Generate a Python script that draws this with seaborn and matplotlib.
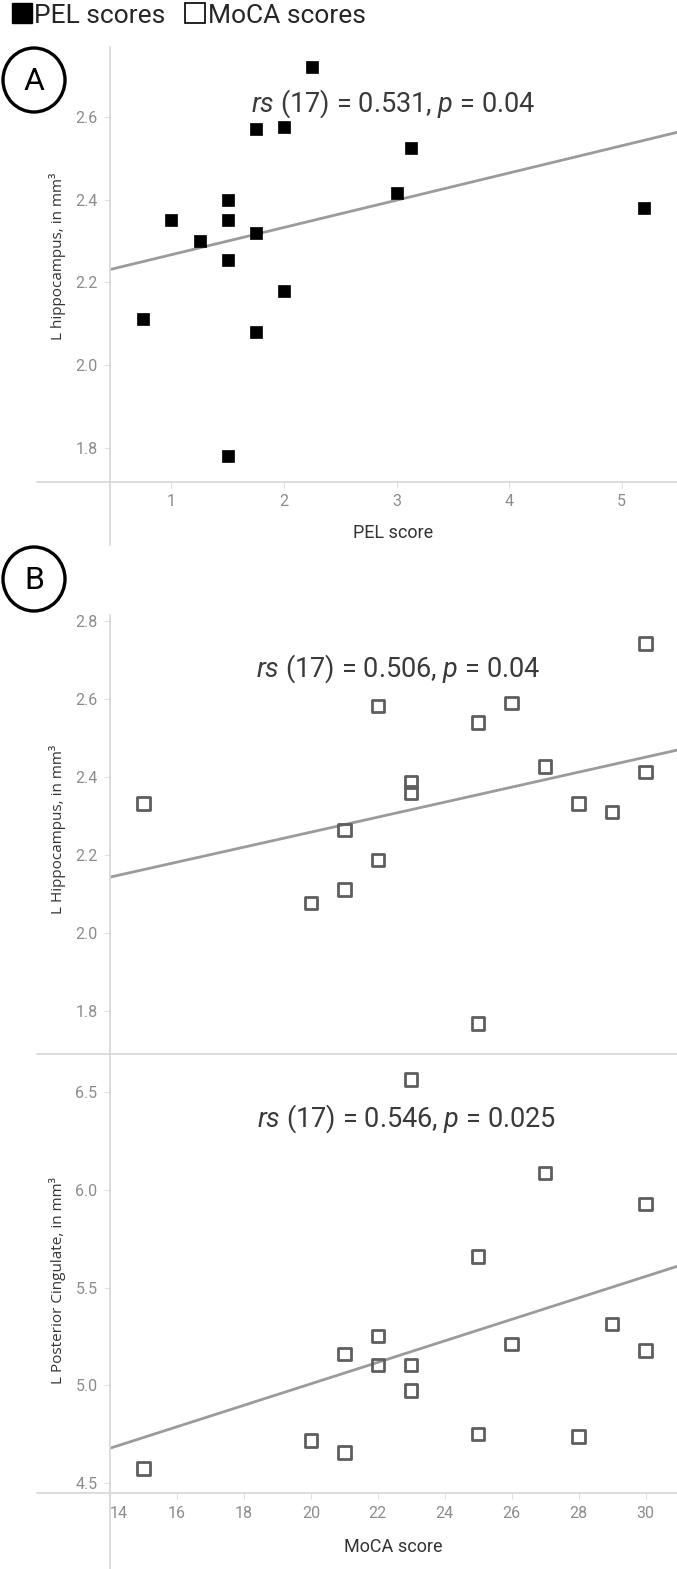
import numpy as np
import pandas as pd
import matplotlib
matplotlib.use("Agg")
import matplotlib.pyplot as plt
import seaborn as sns
from matplotlib.lines import Line2D
from matplotlib.patches import Ellipse
from matplotlib import font_manager as fm

# ---------------- data ----------------
pel_score = [0.75, 1.0, 1.25, 1.5, 1.5, 1.5, 1.5, 1.75, 1.75, 1.75, 2.0, 2.0, 2.25, 3.0, 3.125, 5.2]
pel_hippocampus = [2.11, 2.35, 2.30, 2.40, 2.35, 2.255, 1.78, 2.57, 2.32, 2.08, 2.575, 2.18, 2.72, 2.415, 2.525, 2.38]

moca_hip_score = [15, 20, 21, 21, 22, 22, 23, 23, 25, 25, 26, 27, 28, 29, 30, 30]
moca_hippocampus = [2.333, 2.078, 2.112, 2.264, 2.187, 2.583, 2.361, 2.388, 1.768, 2.540, 2.591, 2.427, 2.333, 2.311, 2.414, 2.743]

moca_pcc_score = [15, 20, 21, 21, 22, 22, 23, 23, 23, 25, 25, 26, 27, 28, 29, 30, 30]
moca_pcc = [4.572, 4.715, 4.655, 5.159, 5.104, 5.253, 6.567, 5.104, 4.973, 5.659, 4.749, 5.212, 6.086, 4.737, 5.313, 5.929, 5.177]

legend_labels = ["PEL scores", "MoCA scores"]
stats_text = [r"$\it{rs}$ (17) = 0.531, $\it{p}$ = 0.04",
              r"$\it{rs}$ (17) = 0.506, $\it{p}$ = 0.04",
              r"$\it{rs}$ (17) = 0.546, $\it{p}$ = 0.025"]
pel_ticks = [1, 2, 3, 4, 5]
moca_ticks = [14, 16, 18, 20, 22, 24, 26, 28, 30]
hipA_ticks = [1.8, 2.0, 2.2, 2.4, 2.6]
hipB_ticks = [1.8, 2.0, 2.2, 2.4, 2.6, 2.8]
pcc_ticks = [4.5, 5.0, 5.5, 6.0, 6.5]

# ---------------- style ----------------
sns.set_style("white")
names = {f.name for f in fm.fontManager.ttflist}
narrow = "Liberation Sans Narrow" if "Liberation Sans Narrow" in names else "Roboto"
label_font = "Open Sans" if "Open Sans" in names else "DejaVu Sans"
plt.rcParams["font.family"] = ["Roboto", "DejaVu Sans"]
plt.rcParams["mathtext.fontset"] = "custom"
plt.rcParams["mathtext.rm"] = narrow
plt.rcParams["mathtext.it"] = narrow + ":italic"

W, H = 677, 1569
fig = plt.figure(figsize=(W / 100, H / 100), dpi=100)

def px_axes(x0, y0, x1, y1):
    return fig.add_axes([x0 / W, 1 - y1 / H, (x1 - x0) / W, (y1 - y0) / H])

def fline(x0, y0, x1, y1):
    fig.add_artist(Line2D([x0 / W, x1 / W], [1 - y0 / H, 1 - y1 / H],
                          transform=fig.transFigure, color="#d9d9d9", lw=1.3))

axA = px_axes(110, 47, 677, 482)
axB1 = px_axes(110, 615, 677, 1054)
axB2 = px_axes(110, 1054, 677, 1493)

TICK_C = "#8c8c8c"
LINE_C = "#9b9b9b"
OPEN_C = "#5e5e5e"

def style(ax):
    for s in ax.spines.values():
        s.set_visible(False)
    ax.patch.set_alpha(0)
    ax.tick_params(axis="both", which="both", length=4, width=0.8, color="#e0e0e0",
                   labelcolor=TICK_C, labelsize=11.5, pad=5, bottom=True, left=True)

# Panel A
axA.set_xlim(0.455, 5.49)
axA.set_ylim(1.717, 2.769)
sns.regplot(x=pel_score, y=pel_hippocampus, ax=axA, ci=None, truncate=False, scatter=False,
            line_kws=dict(color=LINE_C, lw=2))
sns.scatterplot(x=pel_score, y=pel_hippocampus, ax=axA, marker="s", s=85, color="black",
                edgecolor="black", linewidth=0.5, zorder=3)
axA.set_xticks(pel_ticks)
axA.set_yticks(hipA_ticks)
axA.set_yticklabels([f"{t:.1f}" for t in hipA_ticks])
style(axA)

# Panel B top
axB1.set_xlim(14, 30.94)
axB1.set_ylim(1.690, 2.816)
sns.regplot(x=moca_hip_score, y=moca_hippocampus, ax=axB1, ci=None, truncate=False, scatter=False,
            line_kws=dict(color=LINE_C, lw=2))
sns.scatterplot(x=moca_hip_score, y=moca_hippocampus, ax=axB1, marker="s", s=80,
                facecolor="none", edgecolor=OPEN_C, linewidth=2, zorder=3)
axB1.set_xticks(moca_ticks)
axB1.set_xticklabels([])
axB1.set_yticks(hipB_ticks)
axB1.set_yticklabels([f"{t:.1f}" for t in hipB_ticks])
style(axB1)
axB1.tick_params(axis="x", length=0)

# Panel B bottom
axB2.set_xlim(14, 30.94)
axB2.set_ylim(4.447, 6.697)
sns.regplot(x=moca_pcc_score, y=moca_pcc, ax=axB2, ci=None, truncate=False, scatter=False,
            line_kws=dict(color=LINE_C, lw=2))
sns.scatterplot(x=moca_pcc_score, y=moca_pcc, ax=axB2, marker="s", s=80,
                facecolor="none", edgecolor=OPEN_C, linewidth=2, zorder=3)
axB2.set_xticks(moca_ticks)
axB2.set_yticks(pcc_ticks)
axB2.set_yticklabels([f"{t:.1f}" for t in pcc_ticks])
style(axB2)
axB2.get_xticklabels()[0].set_ha("left")

# axis labels
ylab_kw = dict(family=[label_font, "DejaVu Sans"], fontsize=11, color="#333333", va="center")
axA.set_ylabel("L hippocampus, in mm³", **ylab_kw)
axA.yaxis.set_label_coords((58 - 110) / 567, (482 - 256) / 435)
axB1.set_ylabel("L Hippocampus, in mm³", **ylab_kw)
axB1.yaxis.set_label_coords((58 - 110) / 567, (1054 - 829) / 439)
axB2.set_ylabel("L Posterior Cingulate, in mm³", **ylab_kw)
axB2.yaxis.set_label_coords((58 - 110) / 567, (1493 - 1281) / 439)

xlab_kw = dict(family=[narrow, "DejaVu Sans"], fontsize=13, color="#333333", va="center")
axA.set_xlabel("PEL score", **xlab_kw)
axA.xaxis.set_label_coords(0.5, (482 - 533) / 435)
axB2.set_xlabel("MoCA score", **xlab_kw)
axB2.xaxis.set_label_coords(0.5, (1493 - 1547) / 439)
axB1.set_xlabel("")

# statistics annotations
st_kw = dict(fontsize=19.5, color="#3a3a3a", ha="center", va="center")
axA.text(0.5, 0.8706, stats_text[0], transform=axA.transAxes, **st_kw)
axB1.text(0.509, 0.8786, stats_text[1], transform=axB1.transAxes, **st_kw)
axB2.text(0.523, 0.8535, stats_text[2], transform=axB2.transAxes, **st_kw)

# axis lines
fline(37, 482, 677, 482)
fline(110, 47, 110, 545)
fline(110, 615, 110, 1569)
fline(37, 1054, 677, 1054)
fline(37, 1493, 677, 1493)

# panel letters
for cx, cy, letter in [(34, 80, "A"), (34, 579, "B")]:
    fig.add_artist(Ellipse((cx / W, 1 - cy / H), 62 / W, 64 / H, transform=fig.transFigure,
                           fill=False, ec="black", lw=2.4))
    fig.text(cx / W, 1 - (cy + 1) / H, letter, ha="center", va="center", fontsize=23,
             color="black", family=["Roboto", "DejaVu Sans"])

# legend
handles = [Line2D([], [], marker="s", ls="", color="black", markersize=14.5),
           Line2D([], [], marker="s", ls="", markerfacecolor="white", markeredgecolor="black",
                  markeredgewidth=1.2, markersize=14.5)]
fig.legend(handles, legend_labels, loc="upper left", bbox_to_anchor=(9 / W, 1 - 1 / H),
           ncol=2, frameon=False, fontsize=19, handlelength=0.75, handletextpad=0.1,
           columnspacing=0.75, borderpad=0.1, borderaxespad=0)

fig.savefig("out.png", dpi=100)
